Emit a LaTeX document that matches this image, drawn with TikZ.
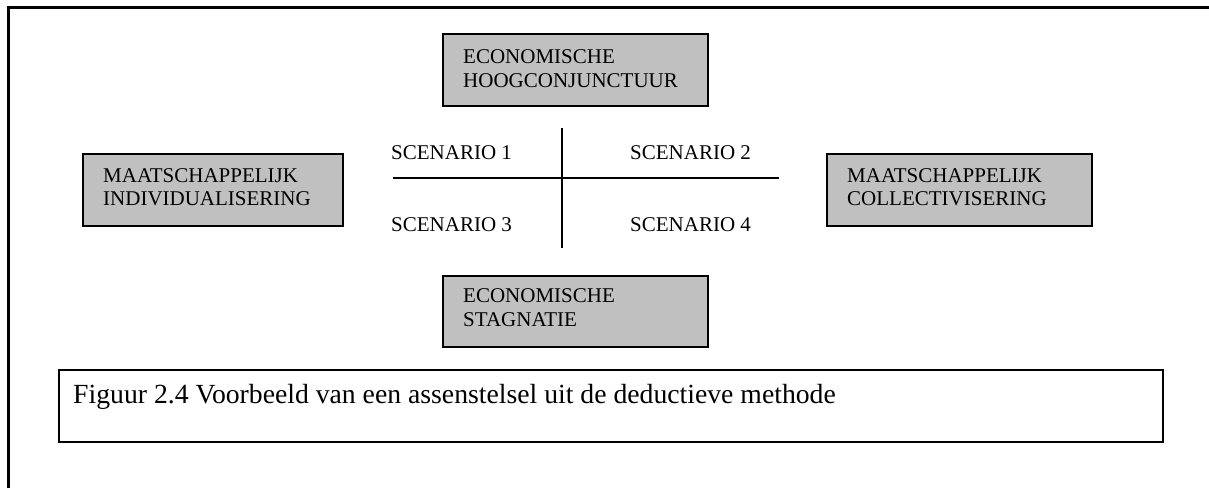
\documentclass[tikz,border=0pt]{standalone}
\usepackage{fontspec}
\setmainfont{Liberation Serif}
\begin{document}
\begin{tikzpicture}[x=1pt,y=-1pt,
  gbox/.style={draw=black, line width=1.5pt, fill={rgb,255:red,192;green,192;blue,192},
    rectangle, inner sep=0pt, anchor=north west},
  lbl/.style={anchor=base west, inner sep=0pt, font=\fontsize{21}{24}\selectfont},
  capbox/.style={draw=black, line width=1.5pt, fill=white, rectangle, inner sep=0pt, anchor=north west},
  axis/.style={draw=black, line width=1.4pt}]
  \useasboundingbox (0,0) rectangle (1209,488);
  % open outer frame (left and top edges)
  \draw[line width=2.3pt] (8.5,488) -- (8.5,7.5) -- (1209,7.5);

  % economic axis boxes
  \node[gbox, minimum width=265pt, minimum height=72pt] (hoog) at (442,33) {};
  \node[lbl] (hoog1) at (463,63.5) {ECONOMISCHE};
  \node[lbl] (hoog2) at (463,87.5) {HOOGCONJUNCTUUR};

  \node[gbox, minimum width=265pt, minimum height=71pt] (stag) at (442,275) {};
  \node[lbl] (stag1) at (463,302.5) {ECONOMISCHE};
  \node[lbl] (stag2) at (463,326) {STAGNATIE};

  % social axis boxes
  \node[gbox, minimum width=260pt, minimum height=72pt] (indiv) at (82,153) {};
  \node[lbl] (indiv1) at (103,182.5) {MAATSCHAPPELIJK};
  \node[lbl] (indiv2) at (103,205.5) {INDIVIDUALISERING};

  \node[gbox, minimum width=265pt, minimum height=72pt] (coll) at (826,153) {};
  \node[lbl] (coll1) at (847,182.5) {MAATSCHAPPELIJK};
  \node[lbl] (coll2) at (847,205.5) {COLLECTIVISERING};

  % axes cross
  \coordinate (vt) at (562,128);
  \coordinate (vb) at (562,248);
  \coordinate (hl) at (393,178);
  \coordinate (hr) at (779,178);
  \draw[axis] (vt) -- (vb);
  \draw[axis] (hl) -- (hr);

  % quadrant labels
  \node[lbl] (s1) at (391,159) {SCENARIO 1};
  \node[lbl] (s2) at (630,159) {SCENARIO 2};
  \node[lbl] (s3) at (391,231) {SCENARIO 3};
  \node[lbl] (s4) at (630,231) {SCENARIO 4};

  % caption
  \node[capbox, minimum width=1104pt, minimum height=72pt] (cap) at (58,369) {};
  \node[anchor=base west, inner sep=0pt, font=\fontsize{27.7}{32}\selectfont] (captxt) at (73,403)
    {Figuur 2.4 Voorbeeld van een assenstelsel uit de deductieve methode};
\end{tikzpicture}
\end{document}
